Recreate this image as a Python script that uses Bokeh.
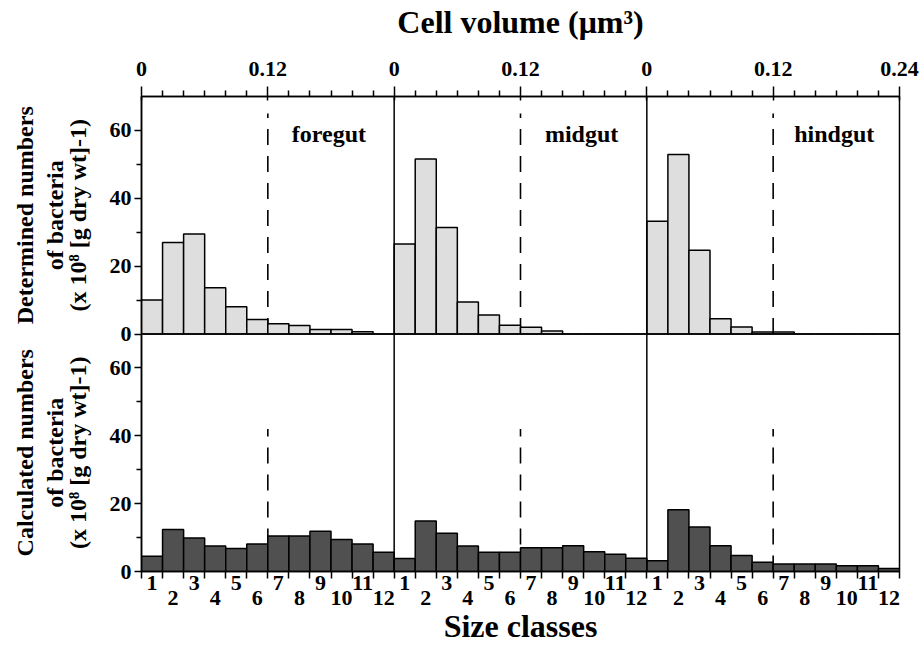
import math
from bokeh.plotting import figure
from bokeh.models import Range1d, LinearAxis, FixedTicker, Label, Span, ColumnDataSource
from bokeh.embed import file_html
from bokeh.resources import INLINE

# ---------------- data ----------------
regions = ["foregut", "midgut", "hindgut"]
size_classes = list(range(1, 13))
class_width_um3 = 0.02   # cell volume per size class

determined_foregut = [10.0, 27.0, 29.5, 13.6, 8.0, 4.3, 3.0, 2.5, 1.3, 1.3, 0.7, 0.0]
determined_midgut = [26.5, 51.6, 31.4, 9.4, 5.6, 2.6, 2.0, 0.9, 0.0, 0.0, 0.0, 0.0]
determined_hindgut = [33.2, 52.9, 24.7, 4.5, 2.1, 0.6, 0.6, 0.0, 0.0, 0.0, 0.0, 0.0]

calculated_foregut = [4.5, 12.4, 9.9, 7.5, 6.8, 8.1, 10.5, 10.5, 11.9, 9.4, 8.1, 5.7]
calculated_midgut = [3.8, 14.9, 11.3, 7.5, 5.7, 5.7, 7.0, 7.0, 7.6, 5.8, 5.1, 3.9]
calculated_hindgut = [3.2, 18.2, 13.1, 7.6, 4.7, 2.7, 2.2, 2.2, 2.2, 1.7, 1.7, 0.9]

y_tick_values = [0, 20, 40, 60]
y_minor_values = [10, 30, 50]
volume_major_step = 0.12

row_title_line1 = ["Calculated numbers", "Determined numbers"]   # bottom row, top row
row_title_line2 = ["of bacteria", "of bacteria"]
row_title_line3 = ["(x 10⁸ [g dry wt]-1)", "(x 10⁸ [g dry wt]-1)"]

determined = [determined_foregut, determined_midgut, determined_hindgut]
calculated = [calculated_foregut, calculated_midgut, calculated_hindgut]

# ---------------- layout constants ----------------
FONT = "Liberation Serif"
YMAX = 70.0            # height of one row in data units
NC = len(size_classes)
NP = len(regions)
XMAX = NC * NP
BL, BR, BT, BB = 141, 20, 96, 74
FRAME_W, FRAME_H = 758, 476
W, H = BL + FRAME_W + BR, BT + FRAME_H + BB

p = figure(width=W, height=H, output_backend="svg", toolbar_location=None,
           x_range=Range1d(0, XMAX), y_range=Range1d(0, 2 * YMAX),
           x_axis_location=None, y_axis_location=None,
           min_border_left=BL, min_border_right=BR, min_border_top=BT, min_border_bottom=BB,
           background_fill_color="white", border_fill_color="white")
p.grid.visible = False
p.outline_line_color = "black"
p.outline_line_width = 1.5

# ---------------- dashed 0.12 lines ----------------
split = round(volume_major_step / class_width_um3)
dash_x = [pi * NC + split for pi in range(NP)]
p.segment(x0=dash_x, x1=dash_x, y0=[YMAX] * NP, y1=[YMAX + 65] * NP,
          line_color="black", line_width=1.6, line_dash="16 11")
p.segment(x0=dash_x, x1=dash_x, y0=[0] * NP, y1=[42] * NP,
          line_color="black", line_width=1.6, line_dash="16 11")

# ---------------- bars ----------------
def bars(series, offset):
    left, right, bottom, top = [], [], [], []
    for pi, vals in enumerate(series):
        for ci, v in enumerate(vals):
            left.append(pi * NC + ci)
            right.append(pi * NC + ci + 1)
            bottom.append(offset)
            top.append(offset + v)
    return ColumnDataSource(dict(left=left, right=right, bottom=bottom, top=top))

p.quad(left="left", right="right", bottom="bottom", top="top", source=bars(determined, YMAX),
       fill_color="#dedede", line_color="black", line_width=1.5)
p.quad(left="left", right="right", bottom="bottom", top="top", source=bars(calculated, 0),
       fill_color="#505050", line_color="black", line_width=1.5)

# ---------------- separators ----------------
for pi in range(1, NP):
    p.add_layout(Span(location=pi * NC, dimension="height", line_color="black", line_width=1.5))
p.add_layout(Span(location=YMAX, dimension="width", line_color="black", line_width=1.5))

# ---------------- left axis ----------------
yt = y_tick_values + [YMAX + v for v in y_tick_values]
ym = y_minor_values + [YMAX + v for v in y_minor_values]
yax = LinearAxis(ticker=FixedTicker(ticks=yt, minor_ticks=ym),
                 major_label_overrides={t: str(int(t - YMAX if t >= YMAX else t)) for t in yt})
yax.major_tick_out = 7
yax.major_tick_in = 0
yax.minor_tick_out = 5
yax.minor_tick_in = 0
yax.major_label_standoff = 3
p.add_layout(yax, "left")

# row titles as rotated tick labels at the row centres
row_centres = [0.5 * YMAX, 1.5 * YMAX]
title_axes = []
for lines, standoff in [(row_title_line3, 10), (row_title_line2, -12), (row_title_line1, -5)]:
    ax = LinearAxis(ticker=FixedTicker(ticks=row_centres, minor_ticks=[]),
                    major_label_overrides={c: t for c, t in zip(row_centres, lines)},
                    major_label_orientation="parallel")
    ax.axis_line_color = None
    ax.major_tick_line_color = None
    ax.minor_tick_line_color = None
    ax.major_label_standoff = standoff
    ax.major_label_text_font = FONT
    ax.major_label_text_font_style = "bold"
    ax.major_label_text_font_size = "24px"
    ax.major_label_text_color = "black"
    p.add_layout(ax, "left")
    title_axes.append(ax)

# ---------------- top axis (cell volume) ----------------
top_major = list(range(0, XMAX + 1, split))
top_minor = [x for x in range(0, XMAX + 1) if x % split != 0]
def vol_label(x):
    pi = min(x // NC, NP - 1)
    v = (x - pi * NC) * class_width_um3
    return "0" if v == 0 else f"{v:.2f}"
tax = LinearAxis(ticker=FixedTicker(ticks=top_major, minor_ticks=top_minor),
                 major_label_overrides={x: vol_label(x) for x in top_major},
                 axis_label="Cell volume (μm³)")
tax.major_tick_out = 10
tax.major_tick_in = 4
tax.minor_tick_out = 6
tax.minor_tick_in = 0
tax.major_label_standoff = 11
tax.axis_label_standoff = 19
p.add_layout(tax, "above")

# ---------------- bottom axes (size classes, staggered) ----------------
centers = [pi * NC + ci + 0.5 for pi in range(NP) for ci in range(NC)]
labels = [str(c) for _ in range(NP) for c in size_classes]
odd_t = [c for c, l in zip(centers, labels) if int(l) % 2 == 1]
even_t = [c for c, l in zip(centers, labels) if int(l) % 2 == 0]
lab_map = dict(zip(centers, labels))

bax1 = LinearAxis(ticker=FixedTicker(ticks=odd_t, minor_ticks=list(range(0, XMAX + 1))),
                  major_label_overrides={t: lab_map[t] for t in odd_t})
bax1.major_tick_out = 0
bax1.major_tick_in = 0
bax1.minor_tick_out = 7
bax1.minor_tick_in = 0
bax1.major_label_standoff = -3
p.add_layout(bax1, "below")

bax2 = LinearAxis(ticker=FixedTicker(ticks=even_t, minor_ticks=[]),
                  major_label_overrides={t: lab_map[t] for t in even_t},
                  axis_label="Size classes")
bax2.axis_line_color = None
bax2.major_tick_line_color = None
bax2.minor_tick_line_color = None
bax2.major_label_standoff = -8
bax2.axis_label_standoff = 0
p.add_layout(bax2, "below")

for ax in [yax, tax, bax1, bax2]:
    ax.major_label_text_font = FONT
    ax.major_label_text_font_style = "bold"
    ax.major_label_text_font_size = "22px"
    ax.major_label_text_color = "black"
    ax.axis_label_text_font = FONT
    ax.axis_label_text_font_style = "bold"
    ax.axis_label_text_font_size = "32px"
    ax.axis_label_text_color = "black"
    if ax is not bax2:
        ax.axis_line_color = "black"
        ax.axis_line_width = 1.5
        ax.major_tick_line_color = "black"
        ax.major_tick_line_width = 1.5
        ax.minor_tick_line_color = "black"
        ax.minor_tick_line_width = 1.5

# ---------------- panel names ----------------
for pi, name in enumerate(regions):
    p.add_layout(Label(x=pi * NC + 8.9, y=YMAX + 59, text=name, text_font=FONT,
                       text_font_style="bold", text_font_size="24px",
                       text_align="center", text_baseline="middle", text_color="black"))

open("out.html", "w").write(file_html(p, INLINE))
